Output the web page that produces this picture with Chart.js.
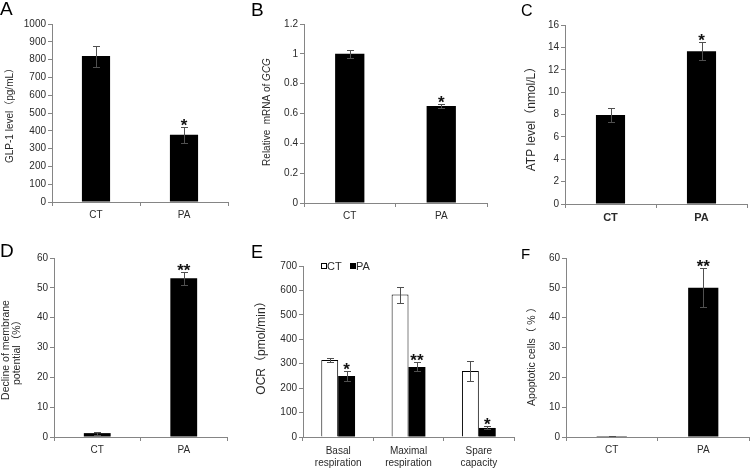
<!DOCTYPE html>
<html><head><meta charset="utf-8">
<script src="https://cdn.jsdelivr.net/npm/chart.js@4.4.1/dist/chart.umd.min.js"></script>
<style>
html,body{margin:0;padding:0;background:#fff;}
#wrap{position:relative;width:750px;height:469px;overflow:hidden;background:#fff;}
canvas{position:absolute;}
</style></head><body><div id="wrap"></div>
<script>
const FONT = "'Liberation Sans', Arial, 'Noto Sans CJK SC', sans-serif";

// ---- data ----
const groupCats = ['CT', 'PA'];

const glp1Mean = [820, 378];
const glp1Err  = [59, 44];
const glp1Sig  = ['', '*'];
const glp1Ticks = [0, 100, 200, 300, 400, 500, 600, 700, 800, 900, 1000];

const gcgMean = [1.0, 0.65];
const gcgErr  = [0.028, 0.013];
const gcgSig  = ['', '*'];
const gcgTicks = [0, 0.2, 0.4, 0.6, 0.8, 1, 1.2];

const atpMean = [7.95, 13.65];
const atpErr  = [0.65, 0.8];
const atpSig  = ['', '*'];
const atpTicks = [0, 2, 4, 6, 8, 10, 12, 14, 16];

const mmpMean = [1.3, 53.2];
const mmpErr  = [0.5, 2.2];
const mmpSig  = ['', '**'];
const mmpTicks = [0, 10, 20, 30, 40, 50, 60];

const ocrCats = [['Basal', 'respiration'], ['Maximal', 'respiration'], ['Spare', 'capacity']];
const ocrCTMean = [315, 583, 270];
const ocrCTErr  = [9, 33, 40];
const ocrPAMean = [250, 287, 37];
const ocrPAErr  = [19, 18, 6];
const ocrPASig  = ['*', '**', '*'];
const ocrTicks = [0, 100, 200, 300, 400, 500, 600, 700];

const apoMean = [0.3, 50];
const apoErr  = [0.1, 6.5];
const apoSig  = ['', '**'];
const apoTicks = [0, 10, 20, 30, 40, 50, 60];

// ---- drawing ----
const axisColor = '#858585';
const textColor = '#2a2a2a';

function panel(cfg) {
  const B = cfg.box, A = cfg.area;
  const c = document.createElement('canvas');
  c.width = B.w; c.height = B.h;
  c.style.left = B.x + 'px'; c.style.top = B.y + 'px';
  document.getElementById('wrap').appendChild(c);

  const overlay = {
    id: 'overlay',
    afterDatasetsDraw(chart) {
      const ctx = chart.ctx, ys = chart.scales.y;
      cfg.series.forEach((s, di) => {
        const meta = chart.getDatasetMeta(di);
        meta.data.forEach((el, i) => {
          const x = Math.round(el.x) + 0.5;
          const top = Math.round(ys.getPixelForValue(s.mean[i] + s.err[i])) + 0.5;
          const bot = Math.round(ys.getPixelForValue(Math.max(s.mean[i] - s.err[i], 0))) + 0.5;
          ctx.save();
          ctx.strokeStyle = '#505050';
          ctx.lineWidth = 1;
          ctx.beginPath();
          ctx.moveTo(x, top); ctx.lineTo(x, bot);
          ctx.moveTo(x - 3.5, top); ctx.lineTo(x + 3.5, top);
          ctx.moveTo(x - 3.5, bot); ctx.lineTo(x + 3.5, bot);
          ctx.stroke();
          if (s.sig && s.sig[i]) {
            ctx.fillStyle = '#111';
            ctx.font = 'bold 17px ' + FONT;
            ctx.textAlign = 'center';
            ctx.textBaseline = 'alphabetic';
            ctx.fillText(s.sig[i], el.x, top + 3);
          }
          ctx.restore();
        });
      });
    },
    afterDraw(chart) {
      const ctx = chart.ctx;
      ctx.save();
      // panel letter
      ctx.fillStyle = '#000';
      ctx.font = cfg.letter.size + 'px ' + FONT;
      ctx.textAlign = 'left';
      ctx.textBaseline = 'alphabetic';
      ctx.fillText(cfg.letter.text, cfg.letter.x - B.x, cfg.letter.y - B.y);
      // y title
      ctx.fillStyle = textColor;
      cfg.ytitle.lines.forEach((ln) => {
        ctx.save();
        ctx.translate(ln.x - B.x, cfg.ytitle.y - B.y);
        ctx.rotate(-Math.PI / 2);
        ctx.textBaseline = 'middle';
        const parts = ln.parts;
        let total = 0;
        parts.forEach(p => {
          ctx.font = (p.italic ? 'italic ' : '') + cfg.ytitle.size + 'px ' + FONT;
          p.w = ctx.measureText(p.t).width; total += p.w;
        });
        let xx = -total / 2;
        ctx.textAlign = 'left';
        parts.forEach(p => {
          ctx.font = (p.italic ? 'italic ' : '') + cfg.ytitle.size + 'px ' + FONT;
          ctx.fillText(p.t, xx, 0); xx += p.w;
        });
        ctx.restore();
      });
      // legend
      if (cfg.legend) {
        const L = cfg.legend;
        ctx.font = '11px ' + FONT;
        ctx.textBaseline = 'alphabetic';
        ctx.textAlign = 'left';
        L.items.forEach(it => {
          const bx = it.bx - B.x, by = L.y - B.y;
          if (it.filled) {
            ctx.fillStyle = '#000';
            ctx.fillRect(bx, by, 6, 6);
          } else {
            ctx.fillStyle = '#fff';
            ctx.fillRect(bx, by, 6, 6);
            ctx.strokeStyle = '#000';
            ctx.lineWidth = 1;
            ctx.strokeRect(bx + 0.5, by + 0.5, 5, 5);
          }
          ctx.fillStyle = textColor;
          ctx.fillText(it.text, it.tx - B.x, L.y - B.y + 7);
        });
      }
      ctx.restore();
    }
  };

  new Chart(c, {
    type: 'bar',
    data: {
      labels: cfg.cats,
      datasets: cfg.series.map(s => ({
        data: s.mean,
        backgroundColor: s.fill,
        borderColor: '#000',
        borderWidth: s.bw,
        categoryPercentage: cfg.catPct,
        barPercentage: 1
      }))
    },
    options: {
      responsive: false,
      animation: false,
      devicePixelRatio: 1,
      layout: { padding: { left: 0, top: A.t - B.y, right: B.x + B.w - A.r, bottom: 0 } },
      plugins: { legend: { display: false }, tooltip: { enabled: false } },
      scales: {
        x: {
          offset: true,
          grid: { display: true, drawOnChartArea: false, drawTicks: true, tickLength: 4, color: axisColor, offset: true },
          border: { display: true, color: axisColor },
          ticks: {
            font: { family: FONT, size: cfg.xFont.size, weight: cfg.xFont.weight, lineHeight: 1.2 },
            color: textColor, padding: cfg.xFont.pad, maxRotation: 0, autoSkip: false
          },
          afterFit(s) { s.height = B.y + B.h - A.b; }
        },
        y: {
          min: cfg.ticks[0], max: cfg.ticks[cfg.ticks.length - 1],
          grid: { display: true, drawOnChartArea: false, drawTicks: true, tickLength: 4, color: axisColor },
          border: { display: true, color: axisColor },
          ticks: { font: { family: FONT, size: 10 }, color: textColor, padding: 2, callback: v => String(v) },
          afterBuildTicks(s) { s.ticks = cfg.ticks.map(v => ({ value: v })); },
          afterFit(s) { s.width = A.l - B.x; }
        }
      }
    },
    plugins: [overlay]
  });
}

const xNorm = { size: 10, weight: 'normal', pad: 3 };

panel({
  box: { x: 0, y: 0, w: 250, h: 234 }, area: { l: 52, t: 24, r: 228, b: 202 },
  cats: groupCats, catPct: 0.32, ticks: glp1Ticks, xFont: xNorm,
  series: [{ mean: glp1Mean, err: glp1Err, sig: glp1Sig, fill: '#000', bw: 0 }],
  letter: { text: 'A', x: 0, y: 15, size: 19 },
  ytitle: { y: 113, size: 10, lines: [{ x: 10, parts: [{ t: 'GLP-1 level（pg/mL）' }] }] }
});

panel({
  box: { x: 250, y: 0, w: 250, h: 234 }, area: { l: 304, t: 24, r: 487, b: 203 },
  cats: groupCats, catPct: 0.32, ticks: gcgTicks, xFont: xNorm,
  series: [{ mean: gcgMean, err: gcgErr, sig: gcgSig, fill: '#000', bw: 0 }],
  letter: { text: 'B', x: 251, y: 16, size: 19 },
  ytitle: { y: 112, size: 10, lines: [{ x: 267, parts: [{ t: 'Relative  mRNA of ' }, { t: 'GCG', italic: true }] }] }
});

panel({
  box: { x: 500, y: 0, w: 250, h: 234 }, area: { l: 565, t: 25, r: 747, b: 204 },
  cats: groupCats, catPct: 0.32, ticks: atpTicks, xFont: { size: 11, weight: 'bold', pad: 3 },
  series: [{ mean: atpMean, err: atpErr, sig: atpSig, fill: '#000', bw: 0 }],
  letter: { text: 'C', x: 521, y: 16, size: 16 },
  ytitle: { y: 116, size: 12, lines: [{ x: 532, parts: [{ t: 'ATP level（nmol/L）' }] }] }
});

panel({
  box: { x: 0, y: 234, w: 250, h: 235 }, area: { l: 54, t: 258, r: 227, b: 437 },
  cats: groupCats, catPct: 0.31, ticks: mmpTicks, xFont: xNorm,
  series: [{ mean: mmpMean, err: mmpErr, sig: mmpSig, fill: '#000', bw: 0 }],
  letter: { text: 'D', x: 0, y: 257, size: 19 },
  ytitle: { y: 350, size: 10.5, lines: [
    { x: 6, parts: [{ t: 'Decline of membrane' }] },
    { x: 17, parts: [{ t: 'potential（%）' }] }
  ] }
});

panel({
  box: { x: 250, y: 234, w: 270, h: 235 }, area: { l: 303, t: 266, r: 514, b: 437 },
  cats: ocrCats, catPct: 0.48, ticks: ocrTicks, xFont: { size: 10, weight: 'normal', pad: 4 },
  series: [
    { mean: ocrCTMean, err: ocrCTErr, sig: null, fill: '#fff', bw: 1 },
    { mean: ocrPAMean, err: ocrPAErr, sig: ocrPASig, fill: '#000', bw: 0 }
  ],
  letter: { text: 'E', x: 251, y: 258, size: 18 },
  ytitle: { y: 345, size: 12, lines: [{ x: 262, parts: [{ t: 'OCR（pmol/min）' }] }] },
  legend: { y: 263, items: [
    { bx: 321, tx: 327, text: 'CT', filled: false },
    { bx: 350, tx: 356, text: 'PA', filled: true }
  ] }
});

panel({
  box: { x: 500, y: 234, w: 250, h: 235 }, area: { l: 566, t: 258, r: 749, b: 437 },
  cats: groupCats, catPct: 0.33, ticks: apoTicks, xFont: xNorm,
  series: [{ mean: apoMean, err: apoErr, sig: apoSig, fill: '#000', bw: 0 }],
  letter: { text: 'F', x: 521, y: 259, size: 15 },
  ytitle: { y: 354, size: 10.5, lines: [{ x: 532, parts: [{ t: 'Apoptotic cells（ % ）' }] }] }
});
</script>
</body></html>
